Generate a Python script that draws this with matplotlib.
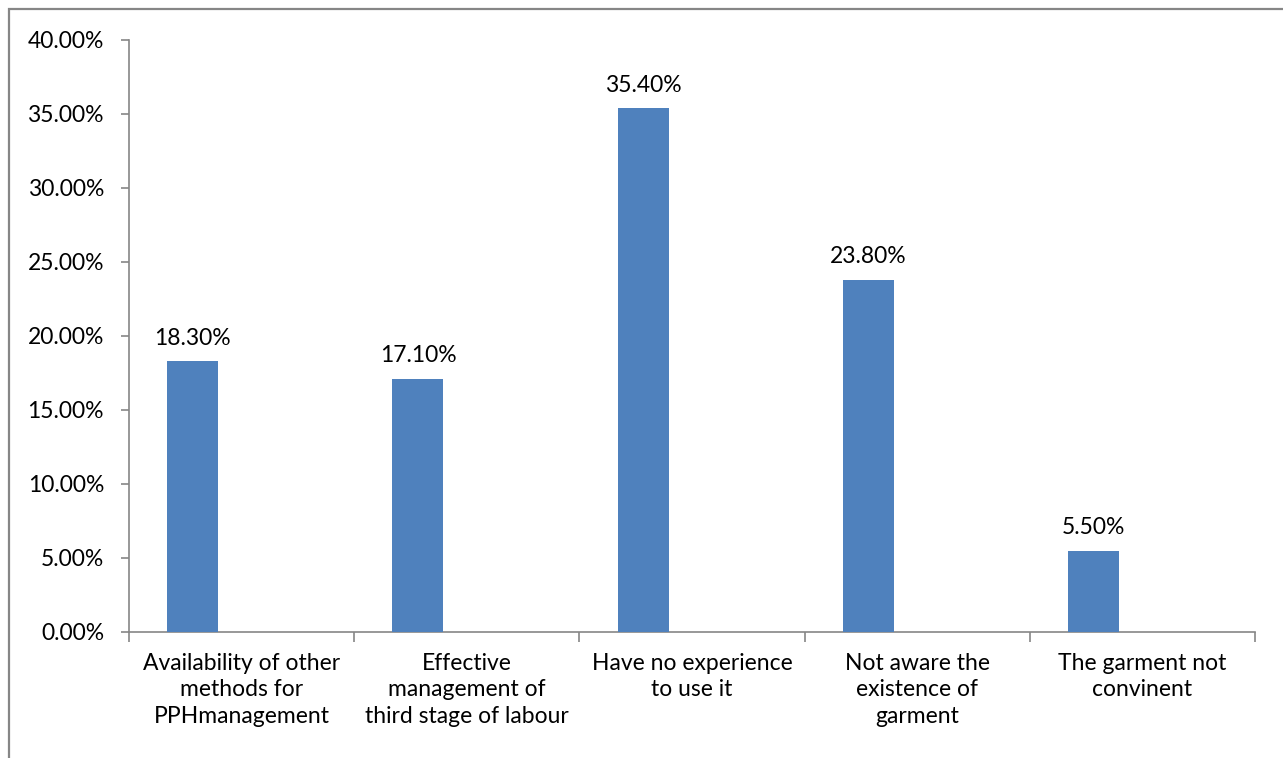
import matplotlib
matplotlib.use("Agg")
import matplotlib.pyplot as plt
from matplotlib.patches import Rectangle
from matplotlib.ticker import FuncFormatter, MultipleLocator
import numpy as np

categories = [
    "Availability of other\nmethods for\nPPHmanagement",
    "Effective\nmanagement of\nthird stage of labour",
    "Have no experience\nto use it",
    "Not aware the\nexistence of\ngarment",
    "The garment not\nconvinent",
]
values = [18.3, 17.1, 35.4, 23.8, 5.5]
labels = ["18.30%", "17.10%", "35.40%", "23.80%", "5.50%"]

plt.rcParams['font.family'] = ['Lato', 'DejaVu Sans']
FS = 16.5
GRAY = "#868686"
BAR = "#4F81BD"

W, H = 1283, 758
fig = plt.figure(figsize=(W / 100, H / 100), dpi=100)
fig.patch.set_facecolor("white")

# chart-area border (only left and top visible in the crop)
fig.add_artist(Rectangle((8.5 / W, -0.1), 1.2, 1 - 9.5 / H + 0.1,
                         transform=fig.transFigure, fill=False,
                         edgecolor=GRAY, linewidth=1.6))

ax = fig.add_axes([129 / W, 1 - 632 / H, (1255 - 129) / W, (632 - 40) / H])
x = np.arange(len(values))
bw = 0.226
offset = -0.217
ax.bar(x + offset, values, width=bw, color=BAR, zorder=3)

for xi, v, lab in zip(x, values, labels):
    ax.annotate(lab, (xi + offset, v), xytext=(0, 9), textcoords="offset points",
                ha="center", va="bottom", fontsize=FS, color="black")

ax.set_xlim(-0.5, len(values) - 0.5)
ax.set_ylim(0, 40)
ax.yaxis.set_major_locator(MultipleLocator(5))
ax.yaxis.set_major_formatter(FuncFormatter(lambda v, p: f"{v:.2f}%"))
ax.tick_params(axis="y", labelsize=FS, length=6, width=1.2, color=GRAY, pad=12)

ax.set_xticks(np.arange(-0.5, len(values)), minor=False)
ax.set_xticklabels([])
ax.set_xticks(x, minor=True)
ax.set_xticklabels(categories, minor=True, fontsize=FS, linespacing=1.32)
ax.tick_params(axis="x", which="major", length=7, width=1.2, color=GRAY, direction="out")
ax.tick_params(axis="x", which="minor", length=0, pad=15)

for s in ["top", "right"]:
    ax.spines[s].set_visible(False)
for s in ["left", "bottom"]:
    ax.spines[s].set_color(GRAY)
    ax.spines[s].set_linewidth(1.2)

fig.savefig("out.png", dpi=100, facecolor="white")
